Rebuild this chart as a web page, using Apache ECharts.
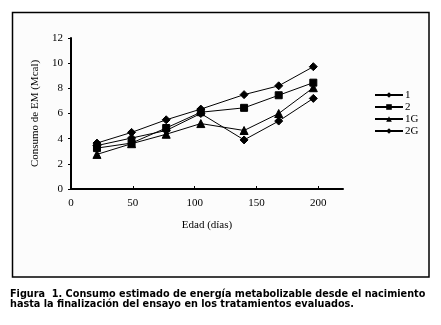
<!DOCTYPE html>
<html><head><meta charset="utf-8">
<script src="https://cdn.jsdelivr.net/npm/echarts@6/dist/echarts.min.js"></script>
<style>html,body{margin:0;padding:0;background:#fff}#c{width:441px;height:325px}</style>
</head><body><div id="c"></div>
<script>
const days = [21, 49, 77, 105, 140, 168, 196];
const s1 = [3.65, 4.5, 5.5, 6.35, 7.5, 8.2, 9.72];
const s2 = [3.25, 3.65, 4.85, 6.1, 6.45, 7.45, 8.45];
const s1G = [2.75, 3.6, 4.35, 5.2, 4.65, 6.0, 8.05];
const s2G = [3.45, 4.05, 4.65, 6.0, 3.9, 5.4, 7.2];
const seriesNames = ['1', '2', '1G', '2G'];
const xTicks = [0, 50, 100, 150, 200];
const yTicks = [0, 2, 4, 6, 8, 10, 12];
const caption1 = 'Figura  1. Consumo estimado de energía metabolizable desde el nacimiento';
const caption2 = 'hasta la finalización del ensayo en los tratamientos evaluados.';

const serif = '"Liberation Serif", "Times New Roman", serif';
const pair = arr => days.map((d, i) => [d, arr[i]]);
const symbols = ['diamond', 'rect', 'triangle', 'diamond'];
const sizes = [8, 7, 8, 8];
const datas = [s1, s2, s1G, s2G];

const chart = echarts.init(document.getElementById('c'), null, {renderer: 'canvas'});
chart.setOption({
  animation: false,
  backgroundColor: '#ffffff',
  textStyle: {fontFamily: serif},
  grid: {left: 71, right: 98, top: 38, bottom: 136, containLabel: false},
  xAxis: {
    type: 'value', min: 0, max: 220, interval: 50,
    name: 'Edad (días)', nameLocation: 'middle', nameGap: 31,
    nameTextStyle: {color: '#000', fontSize: 11, fontFamily: serif},
    axisLine: {show: true, lineStyle: {color: '#000', width: 2}},
    axisTick: {show: true, inside: true, length: 3, lineStyle: {color: '#000', width: 1}, customValues: xTicks},
    axisLabel: {color: '#000', fontSize: 11, fontFamily: serif, margin: 9, customValues: xTicks},
    splitLine: {show: false}
  },
  yAxis: {
    type: 'value', min: 0, max: 12, interval: 2,
    name: 'Consumo de EM (Mcal)', nameLocation: 'middle', nameGap: 29, nameRotate: 90,
    nameTextStyle: {color: '#000', fontSize: 11, fontFamily: serif},
    axisLine: {show: true, lineStyle: {color: '#000', width: 2}},
    axisTick: {show: true, inside: false, length: 3, lineStyle: {color: '#000', width: 1}, customValues: yTicks},
    axisLabel: {color: '#000', fontSize: 11, fontFamily: serif, margin: 8, customValues: yTicks},
    splitLine: {show: false}
  },
  legend: {
    orient: 'vertical', left: 369, top: 84, itemWidth: 28, itemHeight: 7, itemGap: 0,
    textStyle: {color: '#000', fontSize: 11, fontFamily: serif, lineHeight: 12, padding: [0, 0, 0, -3]},
    data: seriesNames
  },
  graphic: [
    {type: 'rect', z: -10, silent: true, shape: {x: 12.5, y: 12.5, width: 416.5, height: 264.5},
     style: {fill: '#fcfcfc', stroke: '#000', lineWidth: 1.5}},
    {type: 'text', left: 10, top: 289, silent: true,
     style: {text: caption1 + '\n' + caption2, fill: '#000', font: 'bold 9.7px "DejaVu Sans", Verdana, sans-serif', lineHeight: 10.5}}
  ],
  series: seriesNames.map((n, i) => ({
    name: n, type: 'line', data: pair(datas[i]),
    symbol: symbols[i], symbolSize: sizes[i],
    lineStyle: {color: '#000', width: 1},
    itemStyle: {color: '#000', borderColor: '#000'},
    emphasis: {disabled: true}
  }))
});
</script></body></html>
